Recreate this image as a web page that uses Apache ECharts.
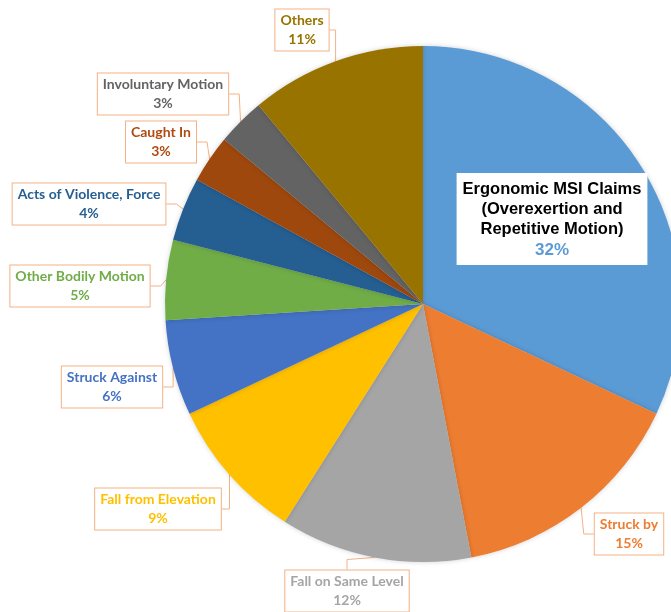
<!DOCTYPE html>
<html>
<head>
<meta charset="utf-8">
<script src="https://cdn.jsdelivr.net/npm/echarts@6/dist/echarts.min.js"></script>
<style>
  html, body { margin: 0; padding: 0; background: #fff; }
  #chart { width: 671px; height: 612px; }
</style>
</head>
<body>
<div id="chart"></div>
<script>
// claim categories, clockwise from 12 o'clock
const categories = [
  'Ergonomic MSI Claims\n(Overexertion and\nRepetitive Motion)',
  'Struck by',
  'Fall on Same Level',
  'Fall from Elevation',
  'Struck Against',
  'Other Bodily Motion',
  'Acts of Violence, Force',
  'Caught In',
  'Involuntary Motion',
  'Others'
]
const shares = [32, 15, 12, 9, 6, 5, 4, 3, 3, 11]

const colors = ['#5B9BD5', '#ED7D31', '#A5A5A5', '#FFC000', '#4472C4',
  '#70AD47', '#255E91', '#9E480E', '#636363', '#997300']
const labelColors = ['#5B9BD5', '#ED7D31', '#A5A5A5', '#FFC000', '#4472C4',
  '#70AD47', '#255E91', '#B04A10', '#636363', '#997300']

// where each callout box sits (centre of box)
const labelSpots = [
  [552, 219], [629, 534], [347, 591], [158, 509], [112, 387],
  [80, 286], [89, 204], [161, 142], [163, 94], [302, 30]
]

const chart = echarts.init(document.getElementById('chart'))

const data = categories.map((name, i) => {
  const item = {
    name,
    value: shares[i],
    itemStyle: { color: colors[i] },
    label: { color: labelColors[i] }
  }
  if (i === 0) {
    item.label = {
      formatter: p => `{n|${p.name}}\n{p|${p.percent}%}`,
      backgroundColor: '#fff',
      borderWidth: 0,
      padding: [6, 6, 4, 6],
      rich: {
        n: { fontFamily: 'Liberation Sans', fontWeight: 'bold', fontSize: 16.5, color: '#000', lineHeight: 20, align: 'center' },
        p: { fontFamily: 'Liberation Sans', fontWeight: 'bold', fontSize: 17, color: '#5B9BD5', lineHeight: 22, align: 'center' }
      }
    }
    item.labelLine = { lineStyle: { color: '#fff', width: 4 } }
  }
  return item
})

chart.setOption({
  animation: false,
  series: [{
    type: 'pie',
    center: [423, 304],
    radius: 258,
    startAngle: 90,
    clockwise: true,
    avoidLabelOverlap: false,
    data,
    itemStyle: {
      borderWidth: 0,
      shadowBlur: 5,
      shadowColor: 'rgba(0,0,0,0.18)'
    },
    label: {
      show: true,
      position: 'outside',
      formatter: '{b}\n{d}%',
      fontFamily: 'Lato',
      fontWeight: 'bold',
      fontSize: 14,
      lineHeight: 19,
      align: 'center',
      backgroundColor: '#fff',
      borderColor: '#F4B183',
      borderWidth: 1,
      padding: [2, 5, 1, 5]
    },
    labelLine: {
      show: true,
      length: 10,
      length2: 10,
      lineStyle: { color: '#F4B183', width: 1 }
    },
    labelLayout: params => {
      const spot = labelSpots[params.dataIndex]
      return {
        x: spot[0],
        y: spot[1],
        align: 'center',
        verticalAlign: 'middle'
      }
    }
  }]
})
</script>
</body>
</html>
